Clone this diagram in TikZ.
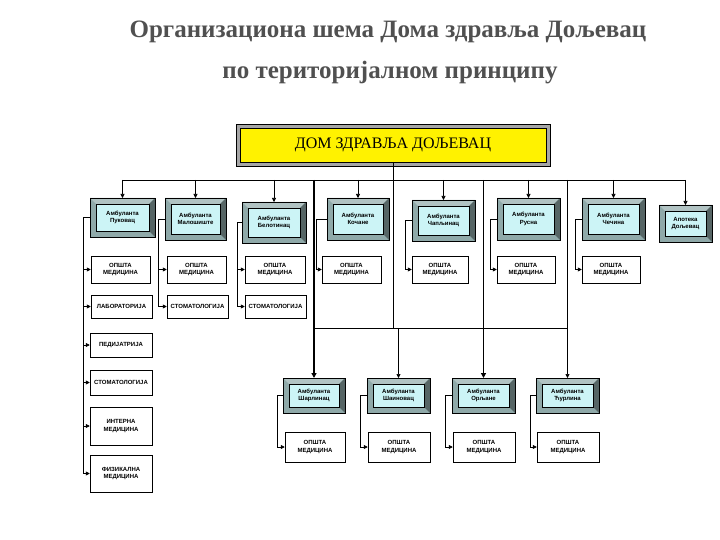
\documentclass[tikz,border=0pt]{standalone}
\usepackage{fontspec}
\setmainfont{Liberation Serif}
\newfontfamily\boxfont{Liberation Sans}
\usetikzlibrary{arrows.meta}
\definecolor{bevout}{HTML}{8FA9A9}
\definecolor{bevin}{HTML}{CCF4F6}
\definecolor{titlec}{HTML}{505050}
\tikzset{
  x=1pt,y=-1pt,
  arr/.style={-{Triangle[length=4pt,width=4pt]},line width=0.6pt},
  ln/.style={line width=0.6pt},
  thk/.style={line width=1.8pt},
  wbox/.style={draw,fill=white,line width=0.5pt,inner sep=0pt,align=center,font=\boxfont\bfseries\fontsize{6}{7.5}\selectfont},
  bev/.style={draw,fill=bevin,line width=0.5pt,inner sep=0pt,align=center,font=\boxfont\bfseries\fontsize{6}{7.5}\selectfont},
}
\newcommand{\bevbox}[6]{% name, x1,y1,x2,y2, text
  \fill[bevout] (#2,#3) rectangle (#4,#5);
  \fill[bevout!70!white] (#2,#3) -- (#4,#3) -- (#4-6,#3+6) -- (#2+6,#3+6) -- cycle;
  \fill[bevout!60!black] (#4,#3) -- (#4,#5) -- (#4-6,#5-6) -- (#4-6,#3+6) -- cycle;
  \draw[line width=0.4pt] (#2,#3) rectangle (#4,#5);
  \node[bev,minimum width={#4-#2-12},minimum height={#5-#3-12}] (#1) at ({(#2+#4)/2},{(#3+#5)/2}) {#6};
  \coordinate (#1o) at ({(#2+#4)/2},#3);
  \coordinate (#1l) at (#2,{(#3+#5)/2});
}
\newcommand{\wb}[6]{\node[wbox,minimum width={#4-#2},minimum height={#5-#3}] (#1) at ({(#2+#4)/2},{(#3+#5)/2}) {#6};}
\begin{document}
\begin{tikzpicture}
\useasboundingbox (0,0) rectangle (720,540);
\node[text=titlec,font=\bfseries\fontsize{25}{29}\selectfont] (t1) at (388,32) {Организациона шема Дома здравља Дољевац};
\node[text=titlec,font=\bfseries\fontsize{25}{29}\selectfont] (t2) at (390,73) {по територијалном принципу};
% main box
\fill[gray!70] (236,124) rectangle (550,166);
\draw[line width=0.5pt] (236,124) rectangle (550,166);
\node[draw,fill=yellow,minimum width=306pt,minimum height=34pt,inner sep=0pt,font=\fontsize{16}{18}\selectfont] (dom) at (393,145) {ДОМ ЗДРАВЉА ДОЉЕВАЦ};
% row 1
\bevbox{a1}{90}{198}{155}{237}{Амбуланта\\Пуковац}
\bevbox{a2}{165}{198}{226}{240}{Амбуланта\\Малошиште}
\bevbox{a3}{242}{202}{306}{243}{Амбуланта\\Белотинац}
\bevbox{a4}{327}{198}{389}{240}{Амбуланта\\Кочане}
\bevbox{a5}{412}{200}{475}{241}{Амбуланта\\Чапљинац}
\bevbox{a6}{497}{198}{560}{240}{Амбуланта\\Русна}
\bevbox{a7}{582}{198}{645}{240}{Амбуланта\\Чечина}
\bevbox{a8}{659}{205}{712}{242}{Апотека\\Дољевац}
% bottom
\bevbox{b1}{283}{378}{345}{413}{Амбуланта\\Шарлинац}
\bevbox{b2}{367}{378}{430}{413}{Амбуланта\\Шаиновац}
\bevbox{b3}{452}{378}{515}{413}{Амбуланта\\Орљане}
\bevbox{b4}{536}{378}{599}{413}{Амбуланта\\Ћурлина}
% white boxes
\wb{o1}{91}{256}{150}{283}{ОПШТА\\МЕДИЦИНА}
\wb{o2}{167}{256}{226}{283}{ОПШТА\\МЕДИЦИНА}
\wb{o3}{245}{256}{305}{283}{ОПШТА\\МЕДИЦИНА}
\wb{o4}{322}{256}{381}{283}{ОПШТА\\МЕДИЦИНА}
\wb{o5}{412}{256}{468}{283}{ОПШТА\\МЕДИЦИНА}
\wb{o6}{497}{256}{555}{283}{ОПШТА\\МЕДИЦИНА}
\wb{o7}{582}{256}{640}{283}{ОПШТА\\МЕДИЦИНА}
\wb{l1}{91}{295}{152}{318}{ЛАБОРАТОРИЈА}
\wb{s2}{167}{295}{228}{318}{СТОМАТОЛОГИЈА}
\wb{s3}{245}{295}{306}{318}{СТОМАТОЛОГИЈА}
\wb{p1}{90}{333}{152}{357}{ПЕДИЈАТРИЈА}
\wb{s1}{90}{370}{152}{395}{СТОМАТОЛОГИЈА}
\wb{i1}{90}{407}{152}{445}{ИНТЕРНА\\МЕДИЦИНА}
\wb{f1}{90}{455}{152}{492}{ФИЗИКАЛНА\\МЕДИЦИНА}
\wb{q1}{285}{432}{345}{462}{ОПШТА\\МЕДИЦИНА}
\wb{q2}{368}{432}{430}{462}{ОПШТА\\МЕДИЦИНА}
\wb{q3}{453}{432}{515}{462}{ОПШТА\\МЕДИЦИНА}
\wb{q4}{537}{432}{599}{462}{ОПШТА\\МЕДИЦИНА}
% bus
\coordinate (busL) at (122,180); \coordinate (busR) at (686,180);
\draw[ln] (busL) -- (busR);
\draw[ln] (dom.south) -- (393,180);
\foreach \a in {a1,a2,a3,a4,a5,a6,a7,a8}{\draw[arr] (\a o |- busL) -- (\a o);}
% rails
\foreach \n/\xx in {c1/83,c2/158,c3/237,c4/316,c5/405,c6/490,c7/575,d1/277,d2/360,d3/445,d4/530}{\coordinate (\n) at (\xx,0);}
\draw[ln] (a1l) -- (c1 |- a1l) -- (c1 |- f1.west);
\foreach \b in {o1,l1,p1,s1,i1,f1}{\draw[arr] (c1 |- \b.west) -- (\b.west);}
\draw[ln] (a2l) -- (c2 |- a2l) -- (c2 |- s2.west);
\foreach \b in {o2,s2}{\draw[arr] (c2 |- \b.west) -- (\b.west);}
\draw[ln] (a3l) -- (c3 |- a3l) -- (c3 |- s3.west);
\foreach \b in {o3,s3}{\draw[arr] (c3 |- \b.west) -- (\b.west);}
\draw[arr] (a4l) -- (c4 |- a4l) -- (c4 |- o4.west) -- (o4.west);
\draw[arr] (a5l) -- (c5 |- a5l) -- (c5 |- o5.west) -- (o5.west);
\draw[arr] (a6l) -- (c6 |- a6l) -- (c6 |- o6.west) -- (o6.west);
\draw[arr] (a7l) -- (c7 |- a7l) -- (c7 |- o7.west) -- (o7.west);
% bottom feeders
\draw[-{Triangle[length=5pt,width=5pt]},thk] (b1o |- busL) -- (b1o);
\draw[ln] (393,180) -- (393,328) -- (398,328);
\draw[arr] (b2o |- 0,328) -- (b2o);
\draw[-{Triangle[length=5pt,width=5pt]},thk] (b3o |- busL) -- (b3o);
\draw[arr] (b4o |- busL) -- (b4o);
\draw[ln] (b1o |- 0,328) -- (b4o |- 0,328);
\foreach \b/\q/\d in {b1/q1/d1,b2/q2/d2,b3/q3/d3,b4/q4/d4}{
  \draw[arr] (\b l) -- (\d |- \b l) -- (\d |- \q.west) -- (\q.west);}
\end{tikzpicture}
\end{document}
